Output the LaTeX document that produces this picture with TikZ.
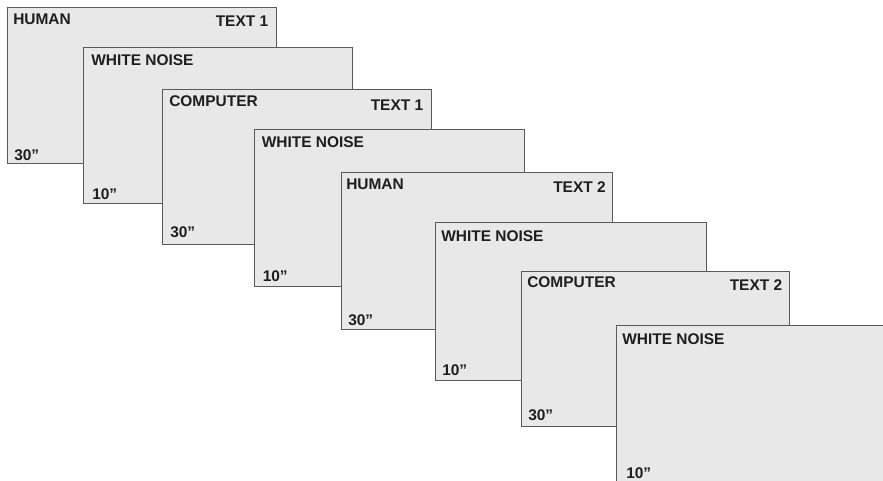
\documentclass[tikz,border=0pt]{standalone}
\usepackage{fontspec}
\setmainfont{Liberation Sans}
\usetikzlibrary{calc}
\definecolor{cardfill}{HTML}{E8E8E8}
\definecolor{carddraw}{HTML}{5A5A5A}
\definecolor{cardtext}{HTML}{1E1E1E}
\tikzset{
  card/.style 2 args={draw=carddraw, fill=cardfill, line width=1.1pt, rectangle, inner sep=0pt, anchor=north west, minimum width=#1*0.75pt, minimum height=#2*0.75pt},
  lbl/.style={text=cardtext, font=\fontsize{11.6}{14}\selectfont\bfseries, inner sep=0pt}
}
\begin{document}
\begin{tikzpicture}[x=0.75pt,y=-0.75pt]
\useasboundingbox (0,0) rectangle (883,480);
\clip (0,0) rectangle (883,480);
% cards
\node[card={269}{156.5}] (r1) at (7,6.5) {};
\node[lbl,anchor=base west] (r1a) at ($(r1.north west)+(6,18)$) {HUMAN};
\node[lbl,anchor=base east] (r1b) at ($(r1.north east)+(-9,20)$) {TEXT 1};
\node[lbl,anchor=base west] (r1c) at ($(r1.south west)+(7,-4)$) {30”};

\node[card={269}{156}] (r2) at (83,47) {};
\node[lbl,anchor=base west] (r2a) at ($(r2.north west)+(8,18)$) {WHITE NOISE};
\node[lbl,anchor=base west] (r2c) at ($(r2.south west)+(9,-5)$) {10”};

\node[card={269}{155}] (r3) at (162,89) {};
\node[lbl,anchor=base west] (r3a) at ($(r3.north west)+(7,17)$) {COMPUTER};
\node[lbl,anchor=base east] (r3b) at ($(r3.north east)+(-9,21)$) {TEXT 1};
\node[lbl,anchor=base west] (r3c) at ($(r3.south west)+(8,-8)$) {30”};

\node[card={270}{157}] (r4) at (253.5,128.5) {};
\node[lbl,anchor=base west] (r4a) at ($(r4.north west)+(8,19)$) {WHITE NOISE};
\node[lbl,anchor=base west] (r4c) at ($(r4.south west)+(9,-5)$) {10”};

\node[card={270.5}{157}] (r5) at (341,172) {};
\node[lbl,anchor=base west] (r5a) at ($(r5.north west)+(5,17)$) {HUMAN};
\node[lbl,anchor=base east] (r5b) at ($(r5.north east)+(-7,20)$) {TEXT 2};
\node[lbl,anchor=base west] (r5c) at ($(r5.south west)+(7,-5)$) {30”};

\node[card={271}{158}] (r6) at (435,222) {};
\node[lbl,anchor=base west] (r6a) at ($(r6.north west)+(6,19)$) {WHITE NOISE};
\node[lbl,anchor=base west] (r6c) at ($(r6.south west)+(7,-6)$) {10”};

\node[card={268}{155}] (r7) at (521,270.5) {};
\node[lbl,anchor=base west] (r7a) at ($(r7.north west)+(6,17)$) {COMPUTER};
\node[lbl,anchor=base east] (r7b) at ($(r7.north east)+(-8,20)$) {TEXT 2};
\node[lbl,anchor=base west] (r7c) at ($(r7.south west)+(7,-6)$) {30”};

\node[card={270}{157}] (r8) at (616,325) {};
\node[lbl,anchor=base west] (r8a) at ($(r8.north west)+(6,19)$) {WHITE NOISE};
\node[lbl,anchor=base west] (r8c) at ($(r8.south west)+(10,-5)$) {10”};
\end{tikzpicture}
\end{document}
